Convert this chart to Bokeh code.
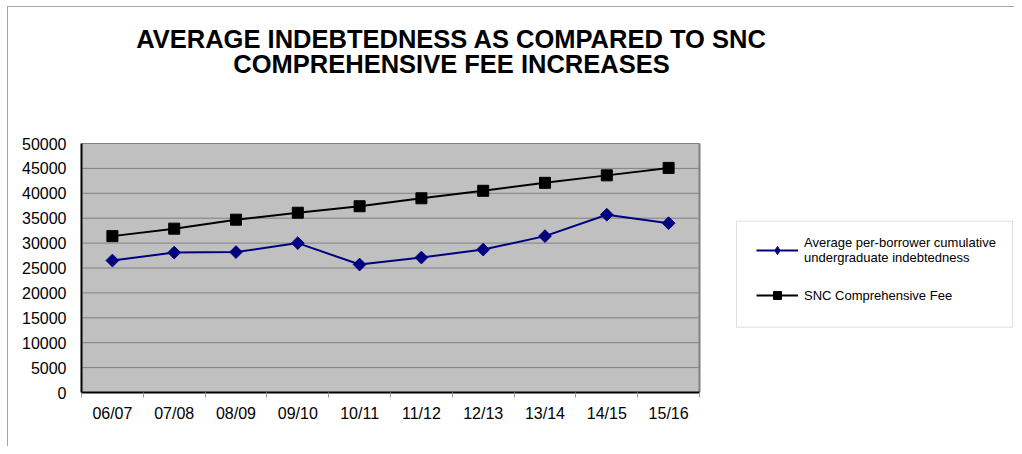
import math
from bokeh.plotting import figure
from bokeh.models import Range1d, FixedTicker, Legend, LegendItem, Label, BoxAnnotation
from bokeh.embed import file_html
from bokeh.resources import INLINE

years = ["06/07", "07/08", "08/09", "09/10", "10/11", "11/12", "12/13", "13/14", "14/15", "15/16"]
indebtedness = [26500, 28100, 28200, 30000, 25700, 27100, 28700, 31400, 35700, 34000]
fee = [31400, 32900, 34700, 36100, 37400, 39000, 40500, 42100, 43600, 45100]
y_ticks = [0, 5000, 10000, 15000, 20000, 25000, 30000, 35000, 40000, 45000, 50000]
title_lines = ["AVERAGE INDEBTEDNESS AS COMPARED TO SNC", "COMPREHENSIVE FEE INCREASES"]
series_names = ["Average per-borrower cumulative\nundergraduate indebtedness", "SNC Comprehensive Fee"]

FONT = "Liberation Sans"

# ---- layout (pixels on the canvas) ----
W, H = 1014, 446
PX_L, PX_R, PX_T, PX_B = 81, 699, 143, 392   # plot-area box
n = len(years)
ymax = max(y_ticks)
x_end = n * (W - PX_L) / (PX_R - PX_L)
y_end = ymax * PX_B / (PX_B - PX_T)


def dx(px):
    return (px - PX_L) * n / (PX_R - PX_L)


def dy(py):
    return (PX_B - py) * ymax / (PX_B - PX_T)


xs = [i + 0.5 for i in range(n)]

p = figure(width=W, height=H, output_backend="svg", toolbar_location=None, title=None,
           x_range=Range1d(0, x_end), y_range=Range1d(0, y_end),
           min_border_left=PX_L, min_border_right=0, min_border_top=0, min_border_bottom=H - PX_B,
           background_fill_alpha=0, border_fill_alpha=0)
p.styles = {
    "background-color": "white",
    "background-image": "linear-gradient(#a6a6a6, #a6a6a6), linear-gradient(#a6a6a6, #a6a6a6)",
    "background-size": "1px 100%, 100% 1px",
    "background-position": "7px 6px, 7px 6px",
    "background-repeat": "no-repeat",
}
p.outline_line_color = None
p.xgrid.visible = False
p.ygrid.visible = False

# plot area: grey fill, grid lines, right border
p.quad(left=[0], right=[n], bottom=[0], top=[ymax], fill_color="#C0C0C0", line_color=None)
p.segment(x0=[0] * len(y_ticks), x1=[n] * len(y_ticks), y0=y_ticks, y1=y_ticks,
          line_color="#808080", line_width=1)
p.segment(x0=[n], x1=[n], y0=[0], y1=[ymax], line_color="#808080", line_width=2)

# y axis
p.yaxis.ticker = FixedTicker(ticks=y_ticks)
p.yaxis.bounds = (0, ymax)
p.yaxis.axis_line_color = "black"
p.yaxis.axis_line_width = 2
p.yaxis.major_tick_out = 0
p.yaxis.major_tick_in = 0
p.yaxis.minor_tick_out = 0
p.yaxis.minor_tick_in = 0
p.yaxis.major_label_standoff = 15
p.yaxis.major_label_text_font = FONT
p.yaxis.major_label_text_font_size = "16px"
p.yaxis.major_label_text_color = "black"

# x axis (labels at category centres, tick marks at category boundaries)
p.xaxis.ticker = FixedTicker(ticks=xs, minor_ticks=list(range(n + 1)))
p.xaxis.bounds = (0, n)
p.xaxis.major_label_overrides = {x: lab for x, lab in zip(xs, years)}
p.xaxis.axis_line_color = "black"
p.xaxis.axis_line_width = 2
p.xaxis.major_tick_out = 0
p.xaxis.major_tick_in = 0
p.xaxis.minor_tick_out = 5
p.xaxis.minor_tick_in = 0
p.xaxis.minor_tick_line_color = "#999999"
p.xaxis.major_label_standoff = 7
p.xaxis.major_label_text_font = FONT
p.xaxis.major_label_text_font_size = "16px"
p.xaxis.major_label_text_color = "black"

# series
l1 = p.line(xs, indebtedness, line_color="#000080", line_width=2)
m1 = p.scatter(xs, indebtedness, marker="square", angle=math.pi / 4, size=9,
               fill_color="#000080", line_color="#000080")
# small diamond, hidden inside the rotated squares, gives the legend its diamond glyph
m1_key = p.scatter(xs, indebtedness, marker="diamond", size=7,
                   fill_color="#000080", line_color="#000080")
l2 = p.line(xs, fee, line_color="black", line_width=2)
m2 = p.scatter(xs, fee, marker="square", size=11, fill_color="black", line_color="black")

# legend box + legend
p.add_layout(BoxAnnotation(left=dx(736), right=dx(1012), top=dy(220.7), bottom=dy(326.7),
                           fill_color="white", fill_alpha=1, line_color="#999999", line_width=1))
legend = Legend(items=[LegendItem(label=series_names[0], renderers=[l1, m1_key]),
                       LegendItem(label=series_names[1], renderers=[l2, m2])],
                location=(675, 80), padding=10, spacing=11, margin=0,
                glyph_width=42, glyph_height=20, label_height=34, label_standoff=6,
                label_text_font=FONT, label_text_font_size="13px", label_text_color="black",
                label_text_line_height=1.05,
                border_line_color=None, background_fill_alpha=0)
p.add_layout(legend, "center")

# title
for txt, yb in zip(title_lines, [47.3 - 8.5, 71.7 - 8.5]):
    p.add_layout(Label(x=dx(451), y=dy(yb), text=txt, text_font=FONT, text_font_size="25.5px",
                       text_font_style="bold", text_align="center", text_baseline="alphabetic",
                       text_color="black"))

open("out.html", "w").write(file_html(p, INLINE))
